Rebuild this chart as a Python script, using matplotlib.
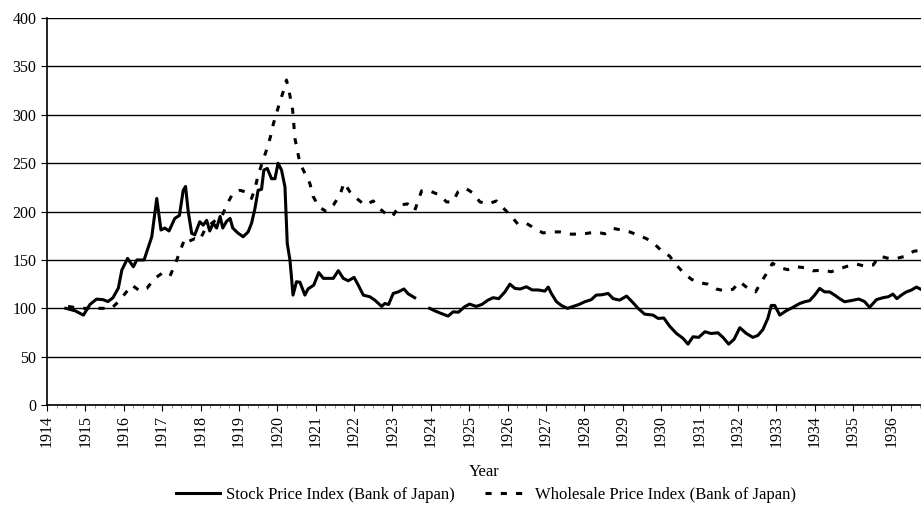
import numpy as np
import matplotlib
matplotlib.use("Agg")
import matplotlib.pyplot as plt
from matplotlib.ticker import MultipleLocator

# Stock Price Index (Bank of Japan), gap after Sept 1923
stock_year = [1914.49, 1914.73, 1914.95, 1915.12, 1915.29, 1915.46, 1915.59, 1915.72,
              1915.86, 1915.95, 1916.10, 1916.25, 1916.34, 1916.53, 1916.73, 1916.86,
              1916.97, 1917.07, 1917.18, 1917.33, 1917.45, 1917.55, 1917.61, 1917.68,
              1917.77, 1917.85, 1917.98, 1918.07, 1918.16, 1918.24, 1918.33, 1918.42,
              1918.51, 1918.58, 1918.68, 1918.77, 1918.84, 1918.97, 1919.11, 1919.24,
              1919.33, 1919.42, 1919.50, 1919.59, 1919.65, 1919.74, 1919.85, 1919.94,
              1920.02, 1920.11, 1920.20, 1920.26, 1920.33, 1920.41, 1920.50, 1920.59,
              1920.72, 1920.80, 1920.95, 1921.08, 1921.20, 1921.33, 1921.46, 1921.59,
              1921.72, 1921.85, 1922.00, 1922.11, 1922.24, 1922.41, 1922.54, 1922.72,
              1922.80, 1922.90, 1923.02, 1923.15, 1923.30, 1923.41, 1923.58,
              1923.75,
              1923.97, 1924.10, 1924.25, 1924.45, 1924.58, 1924.72, 1924.88, 1925.01,
              1925.18, 1925.33, 1925.49, 1925.62, 1925.77, 1925.93, 1926.06, 1926.19,
              1926.33, 1926.49, 1926.64, 1926.80, 1926.97, 1927.06, 1927.14, 1927.27,
              1927.40, 1927.56, 1927.71, 1927.86, 1928.01, 1928.18, 1928.31, 1928.45,
              1928.62, 1928.75, 1928.92, 1929.10, 1929.27, 1929.40, 1929.57, 1929.79,
              1929.92, 1930.07, 1930.22, 1930.40, 1930.57, 1930.70, 1930.83, 1930.98,
              1931.14, 1931.30, 1931.48, 1931.61, 1931.76, 1931.90, 1932.05, 1932.22,
              1932.39, 1932.52, 1932.65, 1932.78, 1932.87, 1932.96, 1933.09, 1933.26,
              1933.43, 1933.61, 1933.74, 1933.87, 1934.00, 1934.13, 1934.26, 1934.39,
              1934.52, 1934.65, 1934.78, 1934.95, 1935.15, 1935.30, 1935.43, 1935.61,
              1935.78, 1935.92, 1936.04, 1936.14, 1936.27, 1936.39, 1936.52, 1936.65,
              1936.75]
stock_val = [100, 97.5, 93, 104, 109.5, 109, 107, 111,
             121, 139.5, 151.6, 143, 150, 150, 174, 213.6,
             181, 183, 180, 193, 196, 222, 226, 200,
             177.5, 176, 189.5, 186, 191, 180, 188, 183,
             195, 183, 190, 193, 183, 178, 174, 179,
             188, 203.6, 222, 223, 243, 244.6, 234, 234,
             250, 243, 225.6, 167, 150, 113.7, 127.5, 127,
             113.7, 120, 124, 137, 131, 131, 131, 139,
             131, 128.5, 132, 124, 113.7, 112, 108.5, 102,
             105, 104, 115.4, 117, 120, 115, 111,
             np.nan,
             100, 97.5, 95, 92, 96.4, 96, 101.6, 104.4,
             102, 104, 108.5, 111, 110, 117, 125, 120.6,
             120, 122.3, 119, 119, 117.8, 122, 115.4, 107,
             103, 100, 102, 104, 106.8, 109, 113.7, 114,
             115.4, 110, 108.5, 112.7, 105.7, 100, 94, 93,
             89.6, 90, 81.6, 74, 69, 63, 70.6, 70,
             75.8, 74, 74.7, 70, 63, 68, 80, 74,
             70, 72, 78, 89.6, 103, 103, 93, 97.5,
             101, 105, 106.8, 108, 113.7, 120.6, 117, 117,
             113.7, 110, 106.8, 108, 109.6, 107, 101, 109,
             111, 112, 114.7, 110, 114, 117, 118.9, 122,
             120]

# Wholesale Price Index (Bank of Japan)
whole_year = [1914.55, 1914.85, 1915.16, 1915.42, 1915.68, 1915.86, 1916.03, 1916.21,
              1916.42, 1916.60, 1916.81, 1916.99, 1917.20, 1917.33, 1917.51, 1917.59,
              1917.68, 1917.85, 1917.98, 1918.11, 1918.29, 1918.42, 1918.55, 1918.68,
              1918.84, 1919.03, 1919.16, 1919.25, 1919.33, 1919.42, 1919.50, 1919.63,
              1919.73, 1919.82, 1919.90, 1919.99, 1920.08, 1920.18, 1920.24, 1920.31,
              1920.40, 1920.46, 1920.59, 1920.72, 1920.85, 1920.93, 1921.08, 1921.28,
              1921.46, 1921.63, 1921.74, 1921.89, 1922.07, 1922.28, 1922.50, 1922.67,
              1922.85, 1923.00, 1923.19, 1923.39, 1923.58, 1923.76, 1923.97, 1924.23,
              1924.41, 1924.57, 1924.71, 1924.91, 1925.09, 1925.28, 1925.49, 1925.71,
              1925.93, 1926.10, 1926.27, 1926.49, 1926.71, 1926.92, 1927.18, 1927.36,
              1927.62, 1927.84, 1928.05, 1928.31, 1928.53, 1928.75, 1928.97, 1929.18,
              1929.40, 1929.62, 1929.83, 1930.01, 1930.22, 1930.40, 1930.60, 1930.79,
              1931.01, 1931.22, 1931.44, 1931.66, 1931.87, 1932.05, 1932.26, 1932.46,
              1932.61, 1932.76, 1932.90, 1933.09, 1933.30, 1933.52, 1933.74, 1933.96,
              1934.22, 1934.43, 1934.65, 1934.87, 1935.09, 1935.30, 1935.52, 1935.69,
              1935.93, 1936.14, 1936.37, 1936.58, 1936.75]
whole_val = [102, 100, 100, 100, 100, 106.8, 115, 124,
             118, 120.6, 131, 136, 133, 144.7, 163.6, 172,
             169, 172, 170.5, 181, 187.8, 192, 194.6, 206.7,
             218.7, 222, 220.5, 218.7, 213.6, 224, 237.7, 253,
             265, 277, 291, 303, 315, 327, 336, 324,
             305, 275.6, 250, 239.5, 229, 216, 205, 200,
             206.7, 217, 229.8, 220.5, 213.6, 206.7, 211, 203,
             197, 195, 206.7, 208, 201, 221.5, 221.5, 217,
             210, 210, 220.5, 224, 219.4, 210, 208, 211,
             202, 195, 187, 187.8, 182.6, 178, 179, 179,
             176.7, 176.7, 177.4, 179, 177, 182.6, 181, 179,
             175.7, 172, 166.4, 159.5, 154, 144.7, 136, 130,
             126.4, 125, 120, 118, 119.7, 127.5, 120.6, 117,
             127.5, 136.8, 146.5, 142, 140, 143, 142, 138.8,
             139.5, 137.8, 141, 143.7, 145.7, 143.7, 144.7, 154,
             151.6, 151.6, 154, 159, 160]

years = list(range(1914, 1937))

plt.rcParams['font.family'] = ['Liberation Serif', 'DejaVu Serif']

fig = plt.figure(figsize=(9.21, 5.18), dpi=100)
ax = fig.add_axes([0.051, 0.218, 0.949, 0.747])

ax.plot(stock_year, stock_val, color='black', lw=2.2,
        label='Stock Price Index (Bank of Japan)')
ax.plot(whole_year, whole_val, color='black', lw=2.2, linestyle=(0, (2, 3)),
        label='Wholesale Price Index (Bank of Japan)')

ax.set_xlim(1914, 1936.77)
ax.set_ylim(0, 400)
ax.set_yticks(range(0, 401, 50))
ax.set_xticks(years)
ax.set_xticklabels([str(y) for y in years], rotation=90)
ax.xaxis.set_minor_locator(MultipleLocator(0.25))
ax.tick_params(axis='both', labelsize=11.5, length=4, color='black')
ax.tick_params(axis='x', which='minor', length=2, color='grey')
ax.grid(axis='y', color='black', lw=1)
ax.set_axisbelow(True)
for s in ['top', 'right']:
    ax.spines[s].set_visible(False)
ax.spines['left'].set_linewidth(1.2)
ax.spines['bottom'].set_linewidth(1.2)

ax.set_xlabel('Year', fontsize=12, labelpad=12)
fig.legend(loc='center', bbox_to_anchor=(0.528, 0.045), ncol=2, frameon=False,
           fontsize=12, handlelength=2.6, handletextpad=0.4, columnspacing=1.8)

fig.savefig('out.png', dpi=100)
